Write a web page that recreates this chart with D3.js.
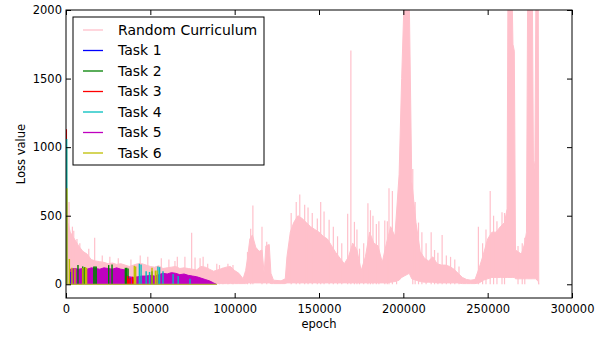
<!DOCTYPE html>
<html lang="en">
<head>
<meta charset="UTF-8">
<title>Loss value</title>
<script src="https://d3js.org/d3.v7.min.js"></script>
<style>
  * { margin: 0; padding: 0; }
  body { background: #fff; }
  svg { display: block; font-family: "DejaVu Sans", sans-serif; }
</style>
</head>
<body>
<svg width="610" height="339"></svg>
<script>
var xTicks = [0, 50000, 100000, 150000, 200000, 250000, 300000];
var yTicks = [0, 500, 1000, 1500, 2000];
var seriesNames = ["Random Curriculum", "Task 1", "Task 2", "Task 3", "Task 4", "Task 5", "Task 6"];

// Random Curriculum swings fast, so it is kept as an envelope: [epoch, high, low]
var pinkEnvelope = [
  [0, 770, 0], [1200, 450, 0], [2500, 380, 0], [5000, 330, 0], [7500, 280, 0],
  [10000, 240, 0], [12500, 220, 0], [15000, 180, 0], [17500, 170, 0], [20000, 165, 0],
  [22500, 160, 0], [25000, 150, 0], [27500, 155, 0], [30000, 145, 0], [32500, 150, 0],
  [35000, 140, 0], [37500, 130, 0], [40000, 140, 0], [42500, 150, 0], [45000, 150, 0],
  [47500, 140, 0], [50000, 130, 0], [52500, 125, 0], [55000, 135, 0], [57500, 115, 0],
  [60000, 120, 0], [62500, 125, 0], [65000, 130, 0], [67500, 115, 0], [70000, 120, 0],
  [72500, 115, 0], [75000, 110, 0], [77500, 105, 0], [80000, 130, 0], [82500, 125, 5],
  [85000, 110, 5], [87500, 95, 5], [90000, 105, 5], [92500, 115, 5], [95000, 125, 5],
  [97500, 130, 5], [100000, 100, 5], [102500, 80, 5], [105000, 40, 5], [106500, 100, 5],
  [107500, 180, 10], [109000, 330, 10], [110500, 360, 10], [112500, 270, 10], [114500, 240, 10],
  [116200, 250, 10], [117500, 80, 10], [118500, 280, 10], [120500, 290, 10], [121500, 80, 5],
  [123000, 30, 5], [127500, 25, 5], [130000, 40, 5], [131000, 200, 10], [133000, 380, 10],
  [135000, 450, 10], [137500, 500, 10], [140000, 480, 10], [142500, 450, 10], [145000, 420, 10],
  [147500, 400, 10], [150000, 380, 10], [152500, 350, 10], [155000, 330, 10], [157500, 280, 10],
  [160000, 230, 10], [162500, 190, 10], [165000, 150, 10], [167500, 200, 10], [170000, 300, 10],
  [172500, 250, 10], [175000, 100, 10], [177500, 200, 10], [180000, 380, 10], [182500, 300, 10],
  [185000, 280, 10], [187500, 160, 10], [190000, 300, 10], [192500, 420, 15], [195000, 350, 20],
  [197500, 800, 30], [199000, 1500, 50], [200500, 2100, 60], [203500, 2100, 80], [205000, 750, 40],
  [207500, 450, 30], [210000, 240, 20], [212500, 190, 15], [215000, 170, 15], [217500, 200, 15],
  [220000, 150, 10], [222500, 140, 10], [225000, 140, 10], [227500, 130, 10], [230000, 110, 10],
  [232500, 80, 10], [235000, 50, 5], [237500, 35, 5], [240000, 30, 5], [242500, 35, 5],
  [245000, 120, 10], [247500, 220, 30], [250000, 330, 40], [252500, 380, 50], [255000, 380, 50],
  [257500, 420, 50], [260000, 450, 50], [261500, 550, 50], [262000, 2100, 50], [264500, 2100, 50],
  [265000, 1750, 50], [265800, 1700, 50], [266500, 250, 40], [270000, 220, 40], [272000, 300, 40],
  [273000, 380, 40], [273700, 2100, 40], [276500, 2100, 40], [277200, 800, 40], [278000, 900, 40],
  [278600, 2100, 40], [280000, 2100, 20], [280300, 0, 0]
];
// single peaks poking out of the band: [epoch, loss]
var pinkSpikes = [
  [1800, 600], [3800, 420], [4600, 390], [6500, 330], [8200, 300], [13500, 260], [17000, 340],
  [21500, 210], [26000, 200], [31000, 190], [38500, 180], [44000, 210], [48500, 200], [56500, 190],
  [61000, 180], [64600, 170], [66000, 200], [70500, 200], [74500, 375], [76500, 195], [79500, 190],
  [81300, 200], [84000, 150], [89400, 150], [91000, 140], [93000, 120], [96000, 150], [99000, 140],
  [107600, 235], [109500, 405], [110800, 575], [116200, 420], [119000, 310], [133500, 520],
  [136500, 600], [138600, 655], [141500, 580], [143500, 560], [146000, 520], [149000, 480],
  [151000, 600], [153000, 530], [156000, 470], [158500, 420], [161000, 350], [163500, 300],
  [167000, 515], [168900, 1705], [171000, 455], [172500, 400], [174000, 260], [176500, 300],
  [179000, 590], [180500, 540], [182000, 500], [184000, 440], [185500, 460], [189000, 465],
  [190500, 460], [191500, 700], [193500, 680], [196000, 430], [205600, 840], [207000, 600],
  [209000, 450], [211000, 380], [213500, 300], [216500, 380], [218500, 250], [220500, 230],
  [223000, 360], [225500, 210], [228000, 200], [230500, 180], [233000, 130], [244500, 420],
  [247000, 300], [249000, 400], [251500, 680], [253500, 500], [255500, 460], [258500, 525],
  [260000, 520], [268000, 280], [270500, 300], [272000, 340]
];

// Task 5 fills most of the first 90000 epochs: [epoch, loss]
var task5Envelope = [
  [2000, 0], [2500, 110], [5000, 115], [7500, 110], [10000, 115], [12500, 110], [15000, 120],
  [17500, 115], [20000, 110], [22500, 120], [25000, 115], [27500, 110], [30000, 120], [32500, 110],
  [35000, 105], [36000, 60], [37500, 55], [40000, 50], [42500, 55], [45000, 60], [47500, 60],
  [50000, 65], [52500, 60], [55000, 70], [57500, 80], [60000, 75], [62500, 85], [65000, 80],
  [67500, 70], [70000, 75], [72500, 65], [75000, 60], [77500, 55], [80000, 45], [82500, 35],
  [85000, 25], [87500, 10], [89000, 0]
];

// the other tasks only show as short bursts [epoch, loss]
var task1Spikes = [[150, 1080], [3000, 90]];
var task2Spikes = [[300, 1000], [7100, 140], [9900, 130], [11000, 125], [16500, 130], [17200, 130],
  [17900, 130], [25300, 140], [27300, 145], [35200, 120], [36000, 120], [36800, 115], [51000, 95]];
var task3Spikes = [[200, 1130], [36500, 60], [37200, 40], [38000, 45], [39500, 55], [40200, 35]];
var task4Spikes = [[400, 1060], [43500, 150], [44500, 145], [47500, 95], [49500, 90], [54500, 130],
  [55500, 125], [57500, 95], [63500, 75], [66500, 60], [73500, 40]];
var task6Spikes = [[500, 700], [2000, 185], [3500, 120], [5300, 115], [10000, 120], [11500, 125],
  [12200, 120], [40500, 135], [41300, 130], [51000, 120], [53000, 100], [54000, 100]];
var tasksEnd = 89500;

var colors = ["pink", "#0000ff", "#008000", "#ff0000", "#00bfbf", "#bf00bf", "#bfbf00"];

var width = 610, height = 339;
var margin = {top: 10, right: 38, bottom: 41, left: 66};
var svg = d3.select("svg");

var x = d3.scaleLinear().domain([0, 300000]).range([margin.left, width - margin.right]);
var y = d3.scaleLinear().domain([-100, 2000]).range([height - margin.bottom, margin.top]);

svg.append("defs").append("clipPath").attr("id", "plot")
  .append("rect")
  .attr("x", margin.left).attr("y", margin.top)
  .attr("width", width - margin.left - margin.right)
  .attr("height", height - margin.top - margin.bottom);

var plot = svg.append("g").attr("clip-path", "url(#plot)");

// random curriculum band
var band = d3.area()
  .x(function (d) { return x(d[0]); })
  .y0(function (d) { return y(d[2]); })
  .y1(function (d) { return y(d[1]); });
plot.append("path").datum(pinkEnvelope)
  .attr("d", band)
  .attr("fill", colors[0])
  .attr("stroke", colors[0])
  .attr("stroke-width", 1);

plot.append("g").selectAll("line").data(pinkSpikes).enter().append("line")
  .attr("x1", function (d) { return x(d[0]); })
  .attr("x2", function (d) { return x(d[0]); })
  .attr("y1", y(0))
  .attr("y2", function (d) { return y(d[1]); })
  .attr("stroke", colors[0])
  .attr("stroke-width", 1.2);

// task 5 goes first so the other bursts stay visible over it
plot.append("path").datum(task5Envelope)
  .attr("d", d3.area()
    .x(function (d) { return x(d[0]); })
    .y0(y(0))
    .y1(function (d) { return y(d[1]); }))
  .attr("fill", colors[5])
  .attr("stroke", colors[5])
  .attr("stroke-width", 1);

function drawSpikes(spikes, color) {
  plot.append("g").selectAll("line").data(spikes).enter().append("line")
    .attr("x1", function (d) { return x(d[0]); })
    .attr("x2", function (d) { return x(d[0]); })
    .attr("y1", y(0))
    .attr("y2", function (d) { return y(d[1]); })
    .attr("stroke", color)
    .attr("stroke-width", 1.4);
}
drawSpikes(task1Spikes, colors[1]);
drawSpikes(task2Spikes, colors[2]);
drawSpikes(task3Spikes, colors[3]);
drawSpikes(task4Spikes, colors[4]);
drawSpikes(task6Spikes, colors[6]);

// task 6 sits at zero when it is not being trained
plot.append("line")
  .attr("x1", x(0)).attr("x2", x(tasksEnd))
  .attr("y1", y(0)).attr("y2", y(0))
  .attr("stroke", "#b5b04a")
  .attr("stroke-width", 1.2);

// axes, ticks pointing inwards on all four sides
function styleAxis(g) {
  g.select(".domain").remove();
  g.selectAll("line").attr("stroke", "#000");
  g.selectAll("text").attr("fill", "#000").style("font-size", "11.5px")
    .style("font-family", "'DejaVu Sans', sans-serif");
}
svg.append("g").attr("transform", "translate(0," + y(-100) + ")")
  .call(d3.axisBottom(x).tickValues(xTicks).tickFormat(d3.format("d")).tickSizeInner(-5).tickSizeOuter(0).tickPadding(7))
  .call(styleAxis);
svg.append("g").attr("transform", "translate(0," + y(2000) + ")")
  .call(d3.axisTop(x).tickValues(xTicks).tickFormat("").tickSizeInner(-5).tickSizeOuter(0))
  .call(styleAxis);
svg.append("g").attr("transform", "translate(" + x(0) + ",0)")
  .call(d3.axisLeft(y).tickValues(yTicks).tickFormat(d3.format("d")).tickSizeInner(-5).tickSizeOuter(0).tickPadding(4))
  .call(styleAxis);
svg.append("g").attr("transform", "translate(" + x(300000) + ",0)")
  .call(d3.axisRight(y).tickValues(yTicks).tickFormat("").tickSizeInner(-5).tickSizeOuter(0))
  .call(styleAxis);

svg.append("rect")
  .attr("x", x(0)).attr("y", y(2000))
  .attr("width", x(300000) - x(0)).attr("height", y(-100) - y(2000))
  .attr("fill", "none").attr("stroke", "#000").attr("stroke-width", 1);

svg.append("text")
  .attr("x", (x(0) + x(300000)) / 2).attr("y", 328)
  .attr("text-anchor", "middle")
  .style("font-size", "11.5px")
  .text("epoch");
svg.append("text")
  .attr("transform", "translate(25," + (y(-100) + y(2000)) / 2 + ") rotate(-90)")
  .attr("text-anchor", "middle")
  .style("font-size", "11.5px")
  .text("Loss value");

// legend
var legend = svg.append("g");
legend.append("rect")
  .attr("x", 73).attr("y", 17).attr("width", 191).attr("height", 148)
  .attr("fill", "#fff").attr("stroke", "#000").attr("stroke-width", 1);
var items = legend.selectAll(".item").data(seriesNames).enter().append("g")
  .attr("transform", function (d, i) { return "translate(0," + (30 + i * 20.5) + ")"; });
items.append("line")
  .attr("x1", 83).attr("x2", 103)
  .attr("stroke", function (d, i) { return colors[i]; })
  .attr("stroke-width", 1.3);
items.append("text")
  .attr("x", 118).attr("dy", "0.35em")
  .style("font-size", "14px")
  .attr("fill", "#000")
  .text(function (d) { return d; });
</script>
</body>
</html>
